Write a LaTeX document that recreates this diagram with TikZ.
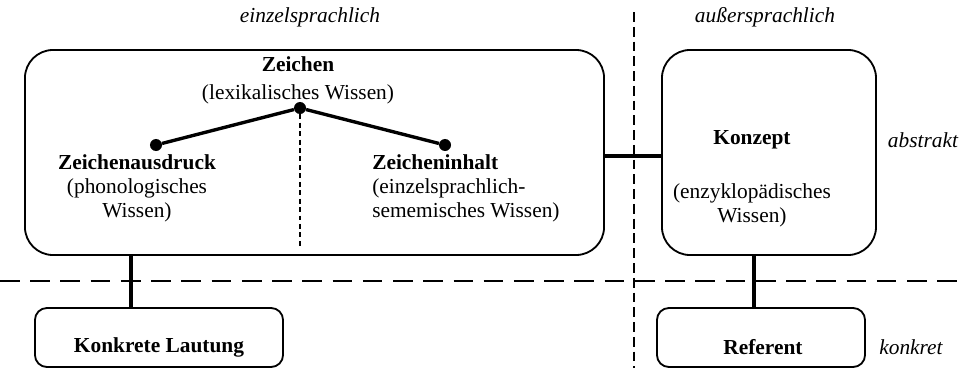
\documentclass[tikz,border=0pt]{standalone}
\usepackage{fontspec}
\setmainfont{Liberation Serif}
\usepackage{tikz}
\usetikzlibrary{positioning}
\tikzset{KnowledgeBox/.style={%
    shape=rectangle,%
    draw=black,%
    line width=1.3pt,%
    rounded corners=20pt,%
    minimum height=5.125cm,%
    inner sep=0pt,%
}}
\tikzset{SmallBox/.style={%
    shape=rectangle,%
    draw=black,%
    line width=1.3pt,%
    rounded corners=8.5pt,%
    minimum height=1.475cm,%
    inner sep=0pt,%
}}
\tikzset{Knot/.style={%
    shape=circle,%
    fill=black,%
    minimum size=0.3cm,%
    inner sep=0pt,%
}}
\tikzset{TreeLine/.style={%
    -,%
    line width=2.4pt,%
}}
\tikzset{Link/.style={%
    -,%
    line width=2.2pt,%
}}
\tikzset{Divider/.style={%
    line width=1.2pt,%
    dash pattern=on 14pt off 7.5pt,%
}}
\tikzset{SideDivider/.style={%
    line width=1.2pt,%
    dash pattern=on 7pt off 3.5pt,%
}}
\tikzset{InnerDivider/.style={%
    line width=1pt,%
    dash pattern=on 3.5pt off 2.5pt,%
}}
\tikzset{Level/.style={%
    font=\fontsize{15.2}{17.1}\selectfont\itshape,%
    inner sep=0pt,%
}}
\tikzset{Term/.style={%
    font=\fontsize{15.2}{17.1}\selectfont,%
    inner sep=0pt,%
}}

\begin{document}
\begin{tikzpicture}[x=0.025cm, y=-0.025cm]
    \useasboundingbox (0,0) rectangle (963,368);

    \node[KnowledgeBox, minimum width=14.475cm] (zeichenBox) at (314.5,152.5) {};
    \node[KnowledgeBox, minimum width=5.35cm] (konzeptBox) at (769,152.5) {};
    \node[SmallBox, minimum width=6.2cm] (lautBox) at (159,337.5) {};
    \node[SmallBox, minimum width=5.2cm] (refBox) at (761,337.5) {};

    \node[Level] (einzel) at (310,17) {einzelsprachlich};
    \node[Level] (ausser) at (765,17) {außersprachlich};
    \node[Level] (abstrakt) at (923,140) {abstrakt};
    \node[Level] (konkret) at (911,347) {konkret};

    \node[Term, align=center] (zeichen) at (298,80) {\textbf{Zeichen}\\[3pt](lexikalisches Wissen)};
    \node[Term, align=center] (ausdruck) at (137,188) {\textbf{Zeichenausdruck}\\(phonologisches\\Wissen)};
    \node[Term, align=left, anchor=west] (inhalt) at (372,188) {\textbf{Zeicheninhalt}\\(einzelsprachlich-\\sememisches Wissen)};
    \node[Term] (konzept) at (752,140) {\textbf{Konzept}};
    \node[Term, align=center, below=0.85cm of konzept] (enzyk) {(enzyklopädisches\\Wissen)};
    \node[Term] (lautung) at (159,347) {\textbf{Konkrete Lautung}};
    \node[Term] (referent) at (763,347) {\textbf{Referent}};

    \node[Knot] (knotTop) at (300,108) {};
    \node[Knot] (knotLeft) at (156,145) {};
    \node[Knot] (knotRight) at (445,145) {};

    \coordinate (lautLink) at (131,0);
    \coordinate (refLink) at (754,0);
    \coordinate (innerEnd) at (0,248);

    \draw[SideDivider] (634,12) -- (634,368);
    \draw[Divider] (0,281) -- (963,281);

    \path (knotTop) edge[TreeLine] (knotLeft);
    \path (knotTop) edge[TreeLine] (knotRight);
    \draw[InnerDivider] (knotTop) -- (knotTop |- innerEnd);

    \draw[Link] ([yshift=-3.5*0.025cm]zeichenBox.east) -- ([yshift=-3.5*0.025cm]konzeptBox.west);
    \draw[Link] (zeichenBox.south -| lautLink) -- (lautBox.north -| lautLink);
    \draw[Link] (konzeptBox.south -| refLink) -- (refBox.north -| refLink);
\end{tikzpicture}
\end{document}
